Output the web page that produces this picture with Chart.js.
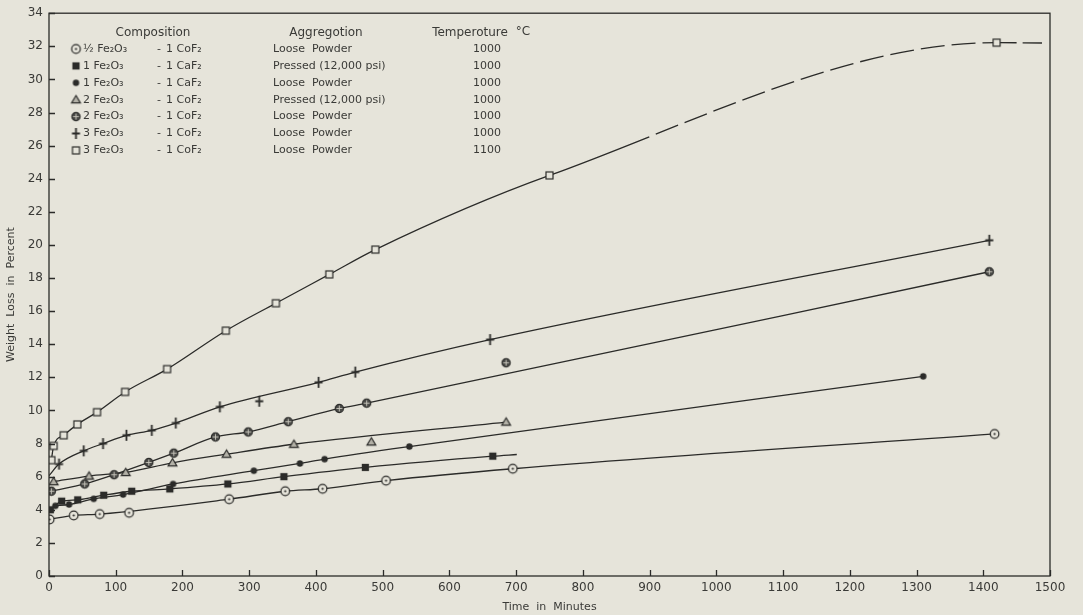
<!DOCTYPE html>
<html>
<head>
<meta charset="utf-8">
<title>Weight loss vs time</title>
<script src="https://cdn.jsdelivr.net/npm/chart.js@4.4.1/dist/chart.umd.min.js"></script>
<style>
  html, body { margin: 0; padding: 0; background: #e6e4da; }
  #wrap { width: 1083px; height: 615px; }
</style>
</head>
<body>
<div id="wrap"><canvas id="chart" width="1083" height="615"></canvas></div>
<script>
// values: time in minutes, weight loss in percent
const halfLooseMin  = [1, 37, 76, 120, 270, 354, 410, 505, 695, 1417];
const halfLooseLoss = [3.42, 3.66, 3.74, 3.82, 4.64, 5.12, 5.27, 5.76, 6.48, 8.58];

const onePressedMin  = [2, 19, 43, 82, 124, 181, 268, 352, 474, 665];
const onePressedLoss = [4.0, 4.52, 4.6, 4.88, 5.12, 5.26, 5.56, 6.0, 6.56, 7.24];
const onePressedEnd  = [701, 7.34];

const oneLooseMin  = [9.5, 30, 67, 111, 186, 307, 376, 413, 540, 1310];
const oneLooseLoss = [4.24, 4.32, 4.66, 4.92, 5.56, 6.36, 6.8, 7.06, 7.82, 12.06];

const twoPressedMin  = [7, 60, 115, 185, 266, 367, 483, 685];
const twoPressedLoss = [5.7, 6.04, 6.26, 6.84, 7.36, 7.96, 8.1, 9.3];

const twoLooseMin  = [3.5, 53.5, 97.5, 149.5, 187, 249.5, 298.5, 358.5, 435, 476, 685, 1409];
const twoLooseLoss = [5.12, 5.56, 6.12, 6.86, 7.42, 8.4, 8.7, 9.32, 10.12, 10.44, 12.88, 18.38];

const threeLooseMin   = [15, 52, 81, 116, 154, 190, 256, 315, 404, 459, 661, 1409];
const threeLooseLoss  = [6.76, 7.56, 8.0, 8.5, 8.8, 9.24, 10.22, 10.56, 11.7, 12.32, 14.28, 20.28];
const threeLooseStart = [0, 6.06];

const hotLooseMin  = [3.5, 7, 22, 42.5, 72, 114, 177, 265, 340, 420, 489, 750, 1420];
const hotLooseLoss = [7.0, 7.86, 8.5, 9.16, 9.9, 11.12, 12.5, 14.82, 16.48, 18.22, 19.72, 24.2, 32.22];
const hotLooseEnd  = [1488, 32.2];
const hotDashedFrom = 750;   // curve is extrapolated (dashed) past here

// legend table text
const compositions = ['½ Fe₂O₃', '1 Fe₂O₃', '1 Fe₂O₃', '2 Fe₂O₃', '2 Fe₂O₃', '3 Fe₂O₃', '3 Fe₂O₃'];
const fluorides    = ['1 CoF₂', '1 CaF₂', '1 CaF₂', '1 CoF₂', '1 CoF₂', '1 CoF₂', '1 CoF₂'];
const aggregations = ['Loose  Powder', 'Pressed (12,000 psi)', 'Loose  Powder', 'Pressed (12,000 psi)',
                      'Loose  Powder', 'Loose  Powder', 'Loose  Powder'];
const temperatures = ['1000', '1000', '1000', '1000', '1000', '1000', '1100'];

const xTicks = { min: 0, max: 1500, step: 100 };
const yTicks = { min: 0, max: 34, step: 2 };

const INK = '#2b2b29';
const PAPER = '#e6e4da';
const TEXT = '#3a3a37';
const FONT = '"DejaVu Sans", "Liberation Sans", sans-serif';

function markerCanvas(kind) {
  const c = document.createElement('canvas');
  c.width = 15; c.height = 15;
  const g = c.getContext('2d');
  const m = 7.5;
  g.strokeStyle = INK; g.fillStyle = INK; g.lineWidth = 1.2;
  if (kind === 'dotCircle') {
    g.beginPath(); g.arc(m, m, 4.3, 0, Math.PI * 2);
    g.fillStyle = PAPER; g.fill(); g.stroke();
    g.beginPath(); g.arc(m, m, 1.1, 0, Math.PI * 2);
    g.fillStyle = INK; g.fill();
  } else if (kind === 'square') {
    g.fillRect(m - 3.6, m - 3.6, 7.2, 7.2);
  } else if (kind === 'dot') {
    g.beginPath(); g.arc(m, m, 3.2, 0, Math.PI * 2); g.fill();
  } else if (kind === 'triangle') {
    g.beginPath(); g.moveTo(m, m - 4.2); g.lineTo(m + 4.4, m + 3.2); g.lineTo(m - 4.4, m + 3.2); g.closePath();
    g.fillStyle = '#b3b1a7'; g.fill(); g.stroke();
  } else if (kind === 'crossCircle') {
    g.beginPath(); g.arc(m, m, 4.1, 0, Math.PI * 2);
    g.fillStyle = '#4d4d4a'; g.fill(); g.stroke();
    g.strokeStyle = '#c9c7bd'; g.lineWidth = 0.9;
    g.beginPath(); g.moveTo(m - 3, m); g.lineTo(m + 3, m); g.moveTo(m, m - 3); g.lineTo(m, m + 3); g.stroke();
  } else if (kind === 'plus') {
    g.lineWidth = 1.8;
    g.beginPath(); g.moveTo(m, m - 5.5); g.lineTo(m, m + 5.5); g.moveTo(m - 4, m); g.lineTo(m + 4, m); g.stroke();
  } else if (kind === 'openSquare') {
    g.fillStyle = PAPER; g.fillRect(m - 3.5, m - 3.5, 7, 7);
    g.strokeRect(m - 3.5, m - 3.5, 7, 7);
  }
  return c;
}

const pts = (xs, ys) => xs.map((x, i) => ({ x: x, y: ys[i] }));

// off: markers that sit off the faired curve
const series = [
  { min: halfLooseMin,  loss: halfLooseLoss,  marker: 'dotCircle',   off: [3] },
  { min: onePressedMin, loss: onePressedLoss, marker: 'square',      off: [], end: onePressedEnd },
  { min: oneLooseMin,   loss: oneLooseLoss,   marker: 'dot',         off: [] },
  { min: twoPressedMin, loss: twoPressedLoss, marker: 'triangle',    off: [6] },
  { min: twoLooseMin,   loss: twoLooseLoss,   marker: 'crossCircle', off: [10] },
  { min: threeLooseMin, loss: threeLooseLoss, marker: 'plus',        off: [7], start: threeLooseStart },
  { min: hotLooseMin,   loss: hotLooseLoss,   marker: 'openSquare',  off: [], end: hotLooseEnd, dashFrom: hotDashedFrom }
];
series.forEach(s => { s.img = markerCanvas(s.marker); });

// first dashed stretch stays solid for a while before the dashes begin
const firstDash = [107, 7];
for (let i = 0; i < 12; i++) firstDash.push(24, 7);

const datasets = [];
series.forEach(s => {
  const marks = pts(s.min, s.loss);
  let curve = marks.filter((p, i) => !s.off.includes(i));
  if (s.start) curve = [{ x: s.start[0], y: s.start[1] }].concat(curve);
  if (s.end) curve = curve.concat([{ x: s.end[0], y: s.end[1] }]);
  const line = {
    type: 'line',
    data: curve,
    borderColor: INK,
    borderWidth: 1.3,
    pointRadius: 0,
    fill: false,
    cubicInterpolationMode: 'monotone',
    order: 2
  };
  if (s.dashFrom !== undefined) {
    line.segment = {
      borderDash: ctx => {
        if (ctx.p0.parsed.x < s.dashFrom) return undefined;
        return ctx.p0.parsed.x === s.dashFrom ? firstDash : [20, 6];
      }
    };
  }
  datasets.push(line);
  datasets.push({
    type: 'line',
    data: marks,
    showLine: false,
    pointStyle: s.img,
    pointRadius: 5,
    order: 1
  });
});

const paper = {
  id: 'paper',
  beforeDraw(chart) {
    const c = chart.ctx;
    c.save(); c.fillStyle = PAPER; c.fillRect(0, 0, chart.width, chart.height); c.restore();
  }
};

// frame and inward tick marks
const frame = {
  id: 'frame',
  afterDraw(chart) {
    const c = chart.ctx, a = chart.chartArea;
    const xs = chart.scales.x, ys = chart.scales.y;
    c.save();
    c.strokeStyle = INK; c.lineWidth = 1.3;
    c.strokeRect(a.left, a.top, a.right - a.left, a.bottom - a.top);
    c.beginPath();
    xs.ticks.forEach(t => {
      const px = Math.round(xs.getPixelForValue(t.value)) + 0.5;
      c.moveTo(px, a.bottom); c.lineTo(px, a.bottom - 6);
    });
    ys.ticks.forEach(t => {
      const py = Math.round(ys.getPixelForValue(t.value)) + 0.5;
      c.moveTo(a.left, py); c.lineTo(a.left + 6, py);
    });
    c.stroke();
    c.restore();
  }
};

const table = {
  id: 'table',
  afterDraw(chart) {
    const c = chart.ctx, a = chart.chartArea;
    const L = a.left;
    c.save();
    c.fillStyle = TEXT;
    c.textBaseline = 'middle';
    c.font = '12px ' + FONT;
    c.textAlign = 'center';
    c.fillText('Composition', L + 104, 33);
    c.fillText('Aggregotion', L + 277, 33);
    c.fillText('Temperoture', L + 421, 33);
    c.fillText('°C', L + 474, 32);
    c.font = '11px ' + FONT;
    compositions.forEach((txt, i) => {
      const y = 49 + i * 16.9;
      c.drawImage(series[i].img, L + 27 - 7.5, y - 7.5);
      c.textAlign = 'left';
      c.fillText(txt, L + 34, y);
      c.fillText('-', L + 108, y);
      c.fillText(fluorides[i], L + 117, y);
      c.fillText(aggregations[i], L + 224, y);
      c.textAlign = 'center';
      c.fillText(temperatures[i], L + 438, y);
    });
    c.restore();
  }
};

new Chart(document.getElementById('chart'), {
  data: { datasets: datasets },
  options: {
    responsive: false,
    animation: false,
    devicePixelRatio: 1,
    layout: { padding: { top: 10, right: 33, left: 0, bottom: 0 } },
    plugins: { legend: { display: false }, tooltip: { enabled: false } },
    scales: {
      x: {
        type: 'linear',
        min: xTicks.min, max: xTicks.max,
        afterFit: s => { s.height = 39; },
        ticks: { stepSize: xTicks.step, padding: 5, color: TEXT, font: { family: FONT, size: 12 }, maxRotation: 0,
                 callback: v => String(v) },
        grid: { display: false, drawTicks: false },
        border: { display: false },
        title: { display: true, text: 'Time  in  Minutes', color: TEXT, font: { family: FONT, size: 11 }, padding: { top: 0, bottom: 1 } }
      },
      y: {
        type: 'linear',
        min: yTicks.min, max: yTicks.max,
        afterFit: s => { s.width = 49; },
        ticks: { stepSize: yTicks.step, padding: 6, color: TEXT, font: { family: FONT, size: 12 },
                 callback: v => String(v) },
        grid: { display: false, drawTicks: false },
        border: { display: false },
        title: { display: true, text: 'Weight  Loss  in  Percent', color: TEXT, font: { family: FONT, size: 11 }, padding: { top: 5, bottom: 0 } }
      }
    }
  },
  plugins: [paper, frame, table]
});
</script>
</body>
</html>
